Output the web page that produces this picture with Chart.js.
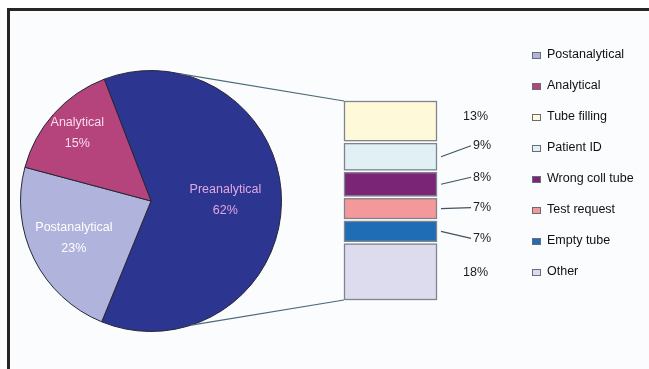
<!DOCTYPE html>
<html>
<head>
<meta charset="utf-8">
<script src="https://cdn.jsdelivr.net/npm/chart.js@4"></script>
<style>
  body { margin: 0; background: #fff; font-family: "Liberation Sans", Arial, sans-serif; }
  #frame { position: absolute; left: 7px; top: 8px; width: 642px; height: 361px; box-sizing: border-box;
           border-top: 3px solid #262626; border-left: 3px solid #262626; background: #fbfcfe; }
  canvas { position: absolute; left: 0; top: 0; }
  #legend { position: absolute; left: 532px; top: 38px; }
  .item { height: 31px; display: flex; align-items: center; font-size: 12.5px; color: #111; }
  .box { width: 7px; height: 5px; border: 1px solid #6a6a78; margin: 4px 6px 0 0; }
</style>
</head>
<body>
<div id="frame"></div>
<canvas id="pieChart" width="649" height="369"></canvas>
<canvas id="barChart" width="649" height="369"></canvas>
<div id="legend"></div>

<script>
// main pie
const pieLabels = ['Preanalytical', 'Postanalytical', 'Analytical'];
const pieValues = [62, 23, 15];
const pieColors = ['#2c3590', '#b0b3dc', '#b5447d'];
const pieTextColors = ['#e2a8e0', '#ffffff', '#f6dcec'];

// breakdown of Preanalytical, bottom of the stack first
const breakdownLabels = ['Other', 'Empty tube', 'Test request', 'Wrong coll tube', 'Patient ID', 'Tube filling'];
const breakdownValues = [18, 7, 7, 8, 9, 13];
const breakdownColors = ['#dcdcee', '#1f6db5', '#f4999a', '#7b2577', '#e0f0f5', '#fdf9d9'];

// layout tweaks (px / degrees), not data
const pieLabelRadius = [0.57, 0.66, 0.76];
const barLabelShift = [1, 7, -1, -7, -11, -5];
const connectorAngles = [13, 162];

const pieLabelPlugin = {
    id: 'pieLabels',
    afterDatasetsDraw(chart) {
        const ctx = chart.ctx;
        const arcs = chart.getDatasetMeta(0).data;
        ctx.save();
        ctx.font = '12.5px "Liberation Sans", Arial, sans-serif';
        ctx.textAlign = 'center';
        ctx.textBaseline = 'middle';
        arcs.forEach((arc, i) => {
            const mid = (arc.startAngle + arc.endAngle) / 2;
            const r = arc.outerRadius * pieLabelRadius[i];
            const x = arc.x + Math.cos(mid) * r;
            const y = arc.y + Math.sin(mid) * r;
            ctx.fillStyle = pieTextColors[i];
            ctx.fillText(pieLabels[i], x, y - 12);
            ctx.fillText(pieValues[i] + '%', x, y + 9);
        });
        ctx.restore();
    }
};

const pieChart = new Chart(document.getElementById('pieChart'), {
    type: 'pie',
    data: {
        labels: pieLabels,
        datasets: [{
            data: pieValues,
            backgroundColor: pieColors,
            borderColor: '#262636',
            borderWidth: 1
        }]
    },
    options: {
        responsive: false,
        animation: false,
        rotation: -21,
        layout: { padding: { left: 20, top: 70, right: 367, bottom: 37 } },
        plugins: { legend: { display: false }, tooltip: { enabled: false } }
    },
    plugins: [pieLabelPlugin]
});

const barLabelPlugin = {
    id: 'barLabels',
    afterDatasetsDraw(chart) {
        const ctx = chart.ctx;
        ctx.save();

        // grey outline round each (shrunken) segment
        ctx.strokeStyle = '#80848e';
        ctx.lineWidth = 1.3;
        breakdownValues.forEach((v, i) => {
            const bar = chart.getDatasetMeta(i).data[0];
            const top = Math.min(bar.y, bar.base);
            const h = Math.abs(bar.base - bar.y);
            ctx.strokeRect(bar.x - bar.width / 2 + 1.5, top + 1.5, bar.width - 3, h - 3);
        });

        ctx.font = '12.5px "Liberation Sans", Arial, sans-serif';
        ctx.fillStyle = '#1c1c1c';
        ctx.textBaseline = 'middle';
        ctx.strokeStyle = '#3f5560';
        ctx.lineWidth = 1.2;

        let firstBar, lastBar;
        breakdownValues.forEach((v, i) => {
            const bar = chart.getDatasetMeta(i).data[0];
            if (i === 0) firstBar = bar;
            lastBar = bar;
            const top = Math.min(bar.y, bar.base);
            const bottom = Math.max(bar.y, bar.base);
            const right = bar.x + bar.width / 2;
            const cy = (top + bottom) / 2;
            const ly = cy + barLabelShift[i];
            if (v >= 10) {
                ctx.fillText(v + '%', right + 25, ly);
            } else {
                ctx.beginPath();
                ctx.moveTo(right + 3, cy);
                ctx.lineTo(right + 33, ly);
                ctx.stroke();
                ctx.fillText(v + '%', right + 35, ly);
            }
        });

        // connector lines from the pie edge to the stacked bar
        const arc = pieChart.getDatasetMeta(0).data[0];
        const R = arc.outerRadius;
        const ends = [
            [lastBar.x - lastBar.width / 2 + 1, Math.min(lastBar.y, lastBar.base) + 1],
            [firstBar.x - firstBar.width / 2 + 1, Math.max(firstBar.y, firstBar.base) - 1]
        ];
        ctx.strokeStyle = '#4a6a76';
        connectorAngles.forEach((deg, k) => {
            const a = deg * Math.PI / 180;
            ctx.beginPath();
            ctx.moveTo(arc.x + R * Math.sin(a), arc.y - R * Math.cos(a));
            ctx.lineTo(ends[k][0], ends[k][1]);
            ctx.stroke();
        });
        ctx.restore();
    }
};

new Chart(document.getElementById('barChart'), {
    type: 'bar',
    data: {
        labels: ['Preanalytical'],
        datasets: breakdownLabels.map((name, i) => ({
            label: name,
            data: [breakdownValues[i]],
            backgroundColor: breakdownColors[i],
            borderWidth: 0,
            inflateAmount: -1,
            barPercentage: 1,
            categoryPercentage: 1
        }))
    },
    options: {
        responsive: false,
        animation: false,
        layout: { padding: { left: 343, right: 211, top: 100, bottom: 68 } },
        scales: {
            x: { stacked: true, display: false },
            y: { stacked: true, display: false, min: 0, max: breakdownValues.reduce((a, b) => a + b, 0) }
        },
        plugins: { legend: { display: false }, tooltip: { enabled: false } }
    },
    plugins: [barLabelPlugin]
});

// legend: the two other pie slices, then the breakdown from top to bottom
const legendNames = [pieLabels[1], pieLabels[2]].concat(breakdownLabels.slice().reverse());
const legendColors = [pieColors[1], pieColors[2]].concat(breakdownColors.slice().reverse());
const legend = document.getElementById('legend');
legendNames.forEach((name, i) => {
    const item = document.createElement('div');
    item.className = 'item';
    item.innerHTML = '<span class="box" style="background:' + legendColors[i] + '"></span>' + name;
    legend.appendChild(item);
});
</script>
</body>
</html>
